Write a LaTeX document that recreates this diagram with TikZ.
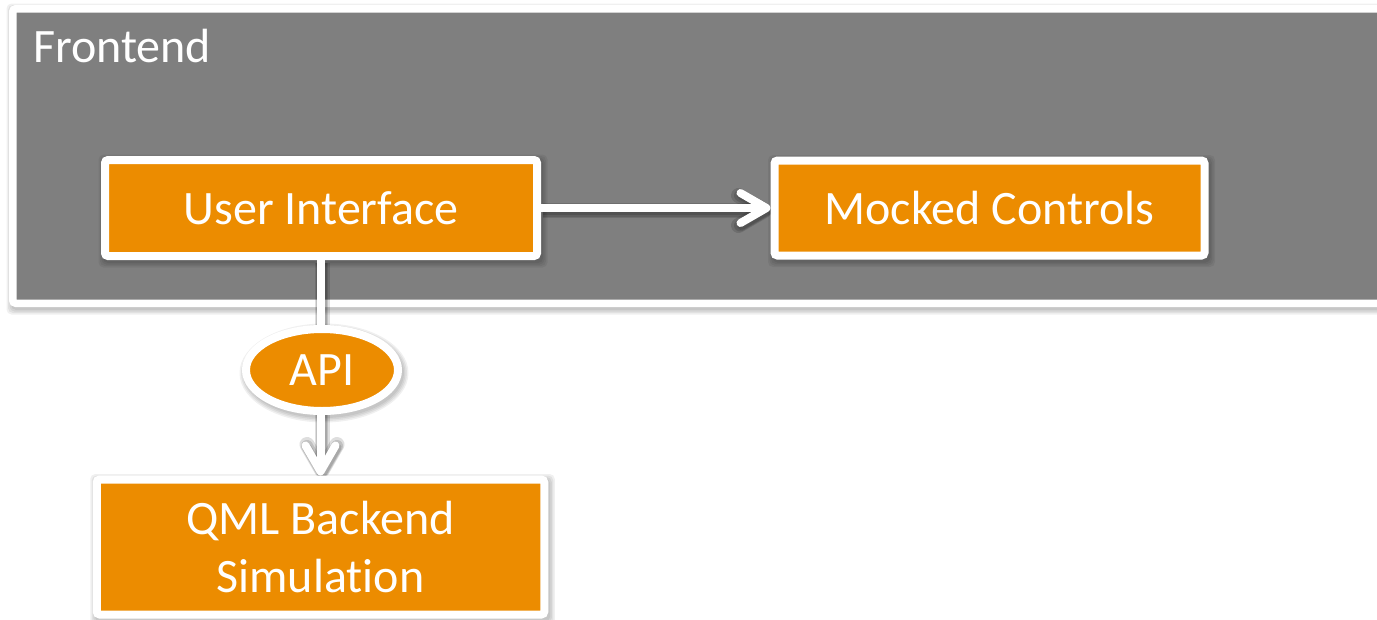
\documentclass[tikz,border=0pt]{standalone}
\usepackage{fontspec}
\setmainfont{Carlito}[Ligatures=NoCommon]
\usetikzlibrary{arrows.meta,shapes.geometric}
\definecolor{boxorange}{RGB}{236,140,0}
\definecolor{framegray}{RGB}{127,127,127}
\pgfdeclarelayer{paper}
\pgfdeclarelayer{frameshade}
\pgfdeclarelayer{framelayer}
\pgfdeclarelayer{shade}
\pgfsetlayers{paper,frameshade,framelayer,shade,main}
\tikzset{
  block/.style={draw=white,line width=8pt,fill=boxorange,rounded corners=3pt,
    inner sep=0pt,text=white,align=center,
    font=\fontsize{48}{58}\selectfont},
  bubble/.style={ellipse,draw=white,line width=8pt,fill=boxorange,inner sep=0pt,
    text=white,font=\fontsize{48}{58}\selectfont},
  link/.style={draw=white,line width=8pt,
    -{Straight Barb[length=26pt,width=30pt,round]}},
  linkshade/.style={link,draw=black,line width=#1,opacity=0.13,
    transform canvas={shift={(1.5pt,-2.5pt)}}},
  haze/.style={fill=black,opacity=0.06,rounded corners=5pt},
}
% soft shadow under a rectangular node
\newcommand\boxshade[1]{%
  \foreach \g in {0,1.5,3,4.5}{%
    \fill[haze] ([xshift=2pt-\g pt,yshift=-3pt+\g pt]#1.north west)
      rectangle ([xshift=2pt+\g pt,yshift=-3pt-\g pt]#1.south east);}}
% soft shadow under a connector
\newcommand\linkshadow[2]{%
  \foreach \w in {9pt,12pt,15pt}{%
    \draw[linkshade=\w] (#1) -- (#2);}}
\begin{document}
\begin{tikzpicture}[x=1pt,y=-1pt]
  \useasboundingbox (0,0) rectangle (1377,619);
  \clip (0,0) rectangle (1377,619);
  \begin{pgfonlayer}{paper}
    \fill[white] (0,0) rectangle (1377,619);
  \end{pgfonlayer}
  % frontend region
  \begin{pgfonlayer}{framelayer}
    \node[draw=white,line width=7.5pt,fill=framegray,rounded corners=3pt,
          minimum width=1390pt,minimum height=294.5pt,inner sep=0pt,anchor=north west]
          (front) at (9,5) {};
    \node[text=white,font=\fontsize{48}{58}\selectfont,anchor=base west,inner sep=0pt]
          (fronttitle) at (33,62) {Frontend};
  \end{pgfonlayer}
  \begin{pgfonlayer}{frameshade}
    \boxshade{front}
  \end{pgfonlayer}
  % blocks
  \node[block,minimum width=432pt,minimum height=96pt] (ui) at (321,208) {User Interface};
  \node[block,minimum width=430pt,minimum height=95pt] (mc) at (989.5,208) {Mocked Controls};
  \node[block,minimum width=447.5pt,minimum height=135pt] (qml) at (320.5,547)
        {QML Backend\\Simulation};
  % connectors
  \coordinate (drop) at (ui.south -| qml.north);
  \draw[link] (ui.east) -- (mc.west);
  \draw[link] (drop) -- (qml.north);
  \node[bubble,minimum width=152pt,minimum height=82pt] (api) at (322,370) {API};
  % shadows beneath blocks and connectors
  \begin{pgfonlayer}{shade}
    \boxshade{ui}
    \boxshade{mc}
    \boxshade{qml}
    \linkshadow{ui.east}{mc.west}
    \linkshadow{drop}{qml.north}
    \foreach \g in {0,1.5,3,4.5}{%
      \fill[haze] ([xshift=2pt,yshift=-3pt]api.center)
        ellipse [x radius=80+\g, y radius=45+\g];}
  \end{pgfonlayer}
\end{tikzpicture}
\end{document}
